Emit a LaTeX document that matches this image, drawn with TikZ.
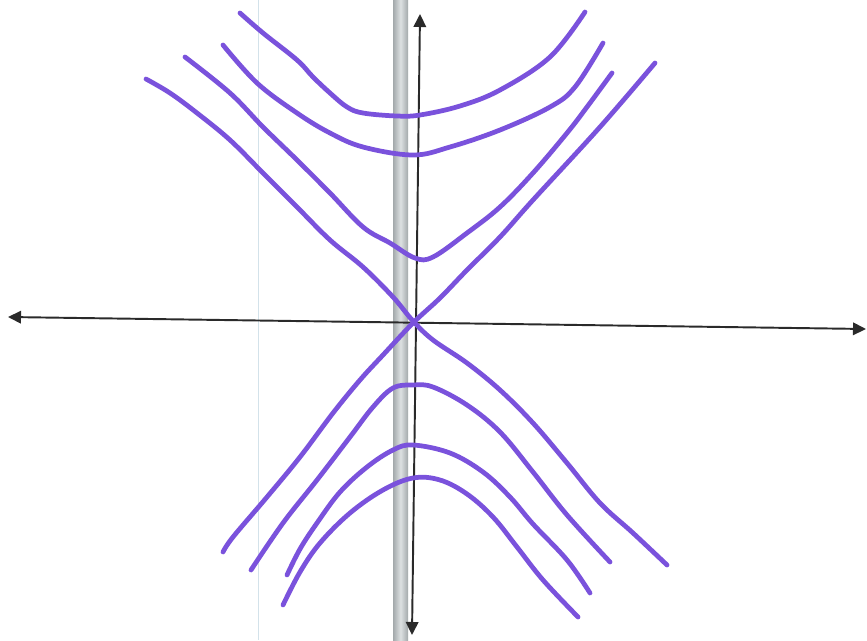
\documentclass[tikz,border=0pt]{standalone}
\usepackage{tikz}
\usetikzlibrary{arrows.meta}
\definecolor{ink}{HTML}{2A2A2A}
\definecolor{pen}{HTML}{7A52DC}
\definecolor{margin}{HTML}{D3E2EA}
\definecolor{scanedge}{HTML}{A3A9AB}
\definecolor{scanmid}{HTML}{DDE1E2}
\tikzset{
  >={Triangle[length=2.6mm,width=2.5mm]},
  axisline/.style={<->,line width=1.1pt,color=ink},
  branch/.style={line width=2.7pt,color=pen,line cap=round,line join=round},
  curve/.style={smooth,tension=0.6},
}

\begin{document}
\begin{tikzpicture}[x=0.2mm,y=-0.2mm]
  \useasboundingbox (0,0) rectangle (867,640);
  % paper: margin rule and the grey scanner band
  \draw[margin,line width=.5pt] (258,0) -- (258,640);
  \shade[left color=scanedge,right color=scanedge,middle color=scanmid] (393,0) rectangle (408,640);

  % axes
  \coordinate (west) at (8,317);
  \coordinate (east) at (866,329);
  \coordinate (north) at (420,14);
  \coordinate (south) at (412,635);
  \draw[axisline] (west) -- (east);
  \draw[axisline] (south) -- (north);

  % branches opening upward
  \draw[branch] plot[curve] coordinates {(240,13) (263,33) (297,60) (313,77) (330,93) (347,107) (363,113) (397,116) (420,115) (460,106) (500,90) (550,57) (585,12)};
  \draw[branch] plot[curve] coordinates {(223,45) (257,83) (297,113) (330,133) (363,147) (413,155) (450,147) (500,130) (550,107) (575,87) (603,43)};
  \draw[branch] plot[curve] coordinates {(185,57) (230,93) (263,127) (297,160) (330,193) (363,227) (390,243) (415,258) (433,257) (467,233) (500,207) (533,173) (567,133) (587,107) (612,73)};

  % asymptotes
  \draw[branch] plot[curve] coordinates {(146,79) (170,93) (197,113) (230,140) (263,173) (297,207) (330,240) (363,267) (393,297) (413,321) (433,340) (467,363) (500,390) (533,423) (567,463) (600,503) (633,533) (667,565)};
  \draw[branch] plot[curve] coordinates {(655,63) (600,127) (533,200) (500,237) (467,270) (440,298) (413,323) (383,355) (360,380) (333,413) (300,457) (267,497) (233,537) (223,552)};

  % branches opening downward
  \draw[branch] plot[curve] coordinates {(251,570) (283,523) (317,480) (350,437) (373,407) (393,388) (413,385) (433,387) (467,405) (500,432) (533,472) (567,515) (610,562)};
  \draw[branch] plot[curve] coordinates {(287,575) (300,549) (317,523) (340,492) (367,467) (393,450) (413,445) (450,453) (483,472) (510,497) (533,524) (567,560) (590,593)};
  \draw[branch] plot[curve] coordinates {(283,605) (300,572) (320,543) (350,513) (383,490) (413,478) (440,480) (467,494) (493,517) (517,547) (543,580) (578,617)};
\end{tikzpicture}
\end{document}
